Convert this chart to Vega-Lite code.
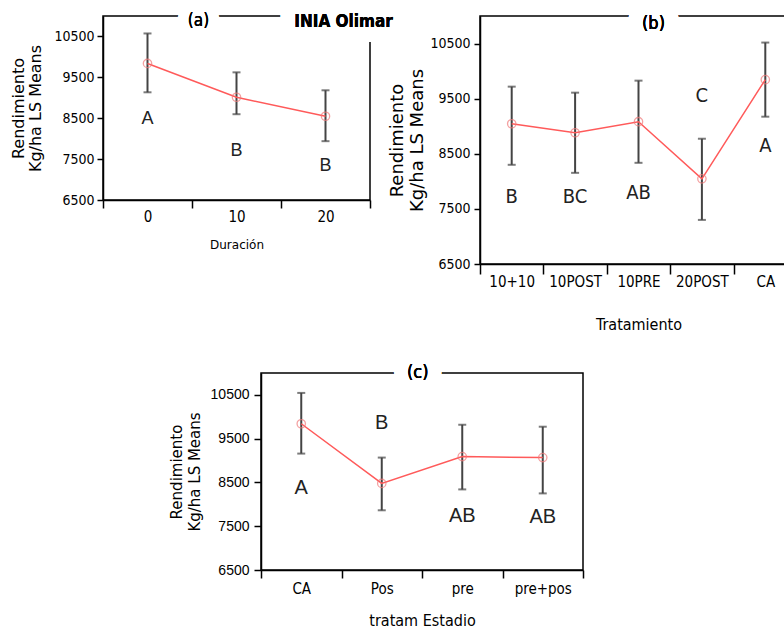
{
  "$schema": "https://vega.github.io/schema/vega-lite/v6.json",
  "background": "white",
  "padding": {"left": 10, "top": 11, "right": 0, "bottom": 0},
  "config": {
    "view": {"stroke": "black", "strokeWidth": 1.5},
    "axis": {"domainColor": "black", "domainWidth": 1.5, "tickColor": "black", "tickWidth": 1.5, "grid": false, "labelColor": "black", "titleColor": "black", "titleFontWeight": "normal"}
  },
  "spacing": 30,
  "vconcat": [
    {
      "spacing": -6,
      "hconcat": [
        {
          "width": 267,
          "height": 184,
          "data": {"values": [
            {"dur": 0, "mean": 9840, "lo": 9134, "hi": 10573, "letra": "A", "ly": 8476},
            {"dur": 10, "mean": 9012, "lo": 8598, "hi": 9622, "letra": "B", "ly": 7695},
            {"dur": 20, "mean": 8549, "lo": 7939, "hi": 9183, "letra": "B", "ly": 7329}
          ]},
          "encoding": {
            "x": {"field": "dur", "type": "ordinal", "scale": {"paddingInner": 0, "paddingOuter": 0},
              "axis": {"title": "Duración", "tickBand": "extent", "tickSize": 8, "labelAngle": 0, "labelFont": "DejaVu Sans Condensed, Liberation Sans", "labelFontSize": 15, "labelPadding": 1, "titleFont": "DejaVu Sans", "titleFontSize": 12, "titlePadding": 15}}
          },
          "layer": [
            {"mark": {"type": "rule", "color": "#444", "strokeWidth": 2},
             "encoding": {"y": {"field": "lo", "type": "quantitative", "scale": {"domain": [6500, 11000], "nice": false, "zero": false},
               "axis": {"title": ["Rendimiento", "Kg/ha LS Means"], "values": [6500, 7000, 7500, 8000, 8500, 9000, 9500, 10000, 10500], "format": "d", "labelExpr": "datum.value % 1000 == 500 ? datum.label : ''", "tickSize": 6, "labelPadding": 3, "labelFont": "DejaVu Sans Condensed, Liberation Sans", "labelFontSize": 14, "titleFont": "DejaVu Sans", "titleFontSize": 16, "titleLineHeight": 17, "titlePadding": 10}},
               "y2": {"field": "hi"}}},
            {"mark": {"type": "tick", "color": "#444", "thickness": 2, "size": 8},
             "encoding": {"y": {"field": "lo", "type": "quantitative"}}},
            {"mark": {"type": "tick", "color": "#444", "thickness": 2, "size": 8},
             "encoding": {"y": {"field": "hi", "type": "quantitative"}}},
            {"mark": {"type": "line", "color": "#ff5a5a", "strokeWidth": 1.5},
             "encoding": {"y": {"field": "mean", "type": "quantitative"}}},
            {"mark": {"type": "point", "shape": "circle", "filled": false, "color": "#f07a7a", "size": 70, "strokeWidth": 1.3},
             "encoding": {"y": {"field": "mean", "type": "quantitative"}}},
            {"mark": {"type": "text", "font": "Liberation Sans", "fontSize": 18, "color": "#222", "baseline": "middle"},
             "encoding": {"y": {"field": "ly", "type": "quantitative"}, "text": {"field": "letra"}}},
            {"mark": {"type": "text", "text": "(a)", "font": "DejaVu Sans Condensed, Liberation Sans", "fontSize": 17, "dx": 51, "dy": 5, "baseline": "middle", "color": "white", "stroke": "white", "strokeWidth": 22, "strokeJoin": "round"},
             "encoding": {"x": {"datum": 0, "type": "ordinal"}, "y": {"datum": 11000, "type": "quantitative"}}},
            {"mark": {"type": "text", "text": "(a)", "font": "DejaVu Sans Condensed, Liberation Sans", "fontSize": 17, "fontWeight": "normal", "dx": 51, "dy": 5, "baseline": "middle", "fill": "black", "strokeWidth": 0},
             "encoding": {"x": {"datum": 0, "type": "ordinal"}, "y": {"datum": 11000, "type": "quantitative"}}},
            {"mark": {"type": "text", "text": "INIA Olimar", "font": "DejaVu Sans Condensed, Liberation Sans", "fontWeight": "bold", "fontSize": 17, "dx": 18, "dy": 6, "baseline": "middle", "color": "white", "stroke": "white", "strokeWidth": 30, "strokeJoin": "round"},
             "encoding": {"x": {"datum": 20, "type": "ordinal"}, "y": {"datum": 11000, "type": "quantitative"}}},
            {"mark": {"type": "text", "text": "INIA Olimar", "font": "DejaVu Sans Condensed, Liberation Sans", "fontWeight": "bold", "fontSize": 17, "dx": 18, "dy": 6, "baseline": "middle", "fill": "black", "strokeWidth": 0},
             "encoding": {"x": {"datum": 20, "type": "ordinal"}, "y": {"datum": 11000, "type": "quantitative"}}}
          ]
        },
        {
          "width": 317,
          "height": 248,
          "data": {"values": [
            {"trat": "10+10", "mean": 9045, "lo": 8300, "hi": 9718, "letra": "B", "ly": 7718},
            {"trat": "10POST", "mean": 8882, "lo": 8154, "hi": 9609, "letra": "BC", "ly": 7718},
            {"trat": "10PRE", "mean": 9082, "lo": 8336, "hi": 9827, "letra": "AB", "ly": 7791},
            {"trat": "20POST", "mean": 8045, "lo": 7300, "hi": 8773, "letra": "C", "ly": 9555},
            {"trat": "CA", "mean": 9845, "lo": 9173, "hi": 10518, "letra": "A", "ly": 8645}
          ]},
          "encoding": {
            "x": {"field": "trat", "type": "nominal", "sort": null, "scale": {"paddingInner": 0, "paddingOuter": 0},
              "axis": {"title": "Tratamiento", "tickBand": "extent", "tickSize": 10, "labelAngle": 0, "labelFont": "DejaVu Sans Condensed, Liberation Sans", "labelFontSize": 15, "labelPadding": 0, "titleFont": "DejaVu Sans Condensed, Liberation Sans", "titleFontSize": 16, "titlePadding": 27}}
          },
          "layer": [
            {"mark": {"type": "rule", "color": "#444", "strokeWidth": 2},
             "encoding": {"y": {"field": "lo", "type": "quantitative", "scale": {"domain": [6500, 11000], "nice": false, "zero": false},
               "axis": {"title": ["Rendimiento", "Kg/ha LS Means"], "values": [6500, 7000, 7500, 8000, 8500, 9000, 9500, 10000, 10500], "format": "d", "labelExpr": "datum.value % 1000 == 500 ? datum.label : ''", "tickSize": 6, "labelPadding": 4, "labelFont": "DejaVu Sans Condensed, Liberation Sans", "labelFontSize": 14, "titleFont": "DejaVu Sans", "titleFontSize": 18, "titleLineHeight": 20, "titlePadding": 3}},
               "y2": {"field": "hi"}}},
            {"mark": {"type": "tick", "color": "#444", "thickness": 2, "size": 8},
             "encoding": {"y": {"field": "lo", "type": "quantitative"}}},
            {"mark": {"type": "tick", "color": "#444", "thickness": 2, "size": 8},
             "encoding": {"y": {"field": "hi", "type": "quantitative"}}},
            {"mark": {"type": "line", "color": "#ff5a5a", "strokeWidth": 1.5},
             "encoding": {"y": {"field": "mean", "type": "quantitative"}}},
            {"mark": {"type": "point", "shape": "circle", "filled": false, "color": "#f07a7a", "size": 70, "strokeWidth": 1.3},
             "encoding": {"y": {"field": "mean", "type": "quantitative"}}},
            {"mark": {"type": "text", "font": "DejaVu Sans Condensed, Liberation Sans", "fontSize": 20, "color": "#222", "baseline": "middle"},
             "encoding": {"y": {"field": "ly", "type": "quantitative"}, "text": {"field": "letra"}}},
            {"mark": {"type": "text", "text": "(b)", "font": "DejaVu Sans Condensed, Liberation Sans", "fontSize": 18, "dx": 15, "dy": 8, "baseline": "middle", "color": "white", "stroke": "white", "strokeWidth": 30, "strokeJoin": "round"},
             "encoding": {"x": {"datum": "10PRE", "type": "nominal"}, "y": {"datum": 11000, "type": "quantitative"}}},
            {"mark": {"type": "text", "text": "(b)", "font": "DejaVu Sans Condensed, Liberation Sans", "fontSize": 18, "fontWeight": "normal", "dx": 15, "dy": 8, "baseline": "middle", "fill": "black", "strokeWidth": 0},
             "encoding": {"x": {"datum": "10PRE", "type": "nominal"}, "y": {"datum": 11000, "type": "quantitative"}}}
          ]
        }
      ]
    },
    {
      "spacing": 0,
      "hconcat": [
        {
          "width": 65,
          "height": 10,
          "view": {"stroke": null},
          "data": {"values": [{}]},
          "mark": {"type": "point", "opacity": 0}
        },
        {
          "width": 322,
          "height": 197,
          "data": {"values": [
            {"est": "CA", "mean": 9841, "lo": 9159, "hi": 10545, "letra": "A", "ly": 8364},
            {"est": "Pos", "mean": 8477, "lo": 7864, "hi": 9068, "letra": "B", "ly": 9864},
            {"est": "pre", "mean": 9091, "lo": 8341, "hi": 9818, "letra": "AB", "ly": 7727},
            {"est": "pre+pos", "mean": 9068, "lo": 8250, "hi": 9773, "letra": "AB", "ly": 7705}
          ]},
          "encoding": {
            "x": {"field": "est", "type": "nominal", "sort": null, "scale": {"paddingInner": 0, "paddingOuter": 0},
              "axis": {"title": "tratam Estadio", "tickBand": "extent", "tickSize": 8, "labelAngle": 0, "labelFont": "DejaVu Sans Condensed, Liberation Sans", "labelFontSize": 15, "labelPadding": 3, "titleFont": "DejaVu Sans Condensed, Liberation Sans", "titleFontSize": 16, "titlePadding": 16}}
          },
          "layer": [
            {"mark": {"type": "rule", "color": "#444", "strokeWidth": 2},
             "encoding": {"y": {"field": "lo", "type": "quantitative", "scale": {"domain": [6500, 11000], "nice": false, "zero": false},
               "axis": {"title": ["Rendimiento", "Kg/ha LS Means"], "values": [6500, 7000, 7500, 8000, 8500, 9000, 9500, 10000, 10500], "format": "d", "labelExpr": "datum.value % 1000 == 500 ? datum.label : ''", "tickSize": 7, "labelPadding": 5, "labelFont": "Liberation Sans", "labelFontSize": 14, "titleFont": "DejaVu Sans", "titleFontSize": 15, "titleLineHeight": 18, "titlePadding": 8}},
               "y2": {"field": "hi"}}},
            {"mark": {"type": "tick", "color": "#444", "thickness": 2, "size": 8},
             "encoding": {"y": {"field": "lo", "type": "quantitative"}}},
            {"mark": {"type": "tick", "color": "#444", "thickness": 2, "size": 8},
             "encoding": {"y": {"field": "hi", "type": "quantitative"}}},
            {"mark": {"type": "line", "color": "#ff5a5a", "strokeWidth": 1.5},
             "encoding": {"y": {"field": "mean", "type": "quantitative"}}},
            {"mark": {"type": "point", "shape": "circle", "filled": false, "color": "#f07a7a", "size": 70, "strokeWidth": 1.3},
             "encoding": {"y": {"field": "mean", "type": "quantitative"}}},
            {"mark": {"type": "text", "font": "Liberation Sans", "fontSize": 20, "color": "#222", "baseline": "middle"},
             "encoding": {"y": {"field": "ly", "type": "quantitative"}, "text": {"field": "letra"}}},
            {"mark": {"type": "text", "text": "(c)", "font": "DejaVu Sans Condensed, Liberation Sans", "fontSize": 18, "dx": 36, "dy": 0, "baseline": "middle", "color": "white", "stroke": "white", "strokeWidth": 28, "strokeJoin": "round"},
             "encoding": {"x": {"datum": "Pos", "type": "nominal"}, "y": {"datum": 11000, "type": "quantitative"}}},
            {"mark": {"type": "text", "text": "(c)", "font": "DejaVu Sans Condensed, Liberation Sans", "fontSize": 18, "fontWeight": "normal", "dx": 36, "dy": 0, "baseline": "middle", "fill": "black", "strokeWidth": 0},
             "encoding": {"x": {"datum": "Pos", "type": "nominal"}, "y": {"datum": 11000, "type": "quantitative"}}}
          ]
        }
      ]
    }
  ]
}
